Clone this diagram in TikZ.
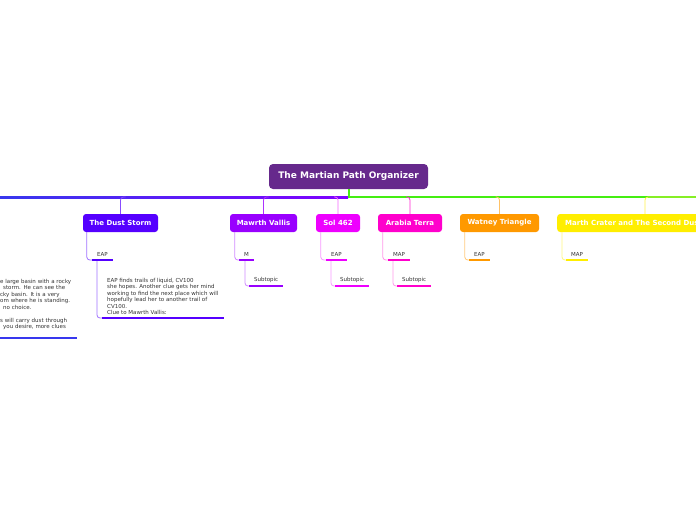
\documentclass[tikz,border=0pt]{standalone}
\usepackage{fontspec}
\setmainfont{DejaVu Sans}
\usetikzlibrary{calc}

\begin{document}
\begin{tikzpicture}[x=1pt,y=-1pt,
  topic/.style={rounded corners=3pt,text=white,font=\fontsize{7}{8}\selectfont\bfseries,minimum height=18pt,inner xsep=0pt,inner ysep=0pt},
  leaf/.style={anchor=south west,font=\fontsize{5.5}{6.5}\selectfont,text=ink,inner xsep=5pt,inner ysep=3pt},
  note/.style={leaf,align=left},
  twig/.style={line width=0.8pt,rounded corners=3pt},
  bar/.style={line width=2.4pt}]
  \definecolor{ink}{HTML}{333333}
  \definecolor{rootc}{HTML}{66298C}
  \definecolor{trunkl}{HTML}{3838EE}
  \definecolor{trunkm}{HTML}{7F00FF}
  \definecolor{trunkr}{HTML}{44EE11}
  \definecolor{dust}{HTML}{5500FF}
  \definecolor{mawrth}{HTML}{9900FF}
  \definecolor{sol}{HTML}{EE00FF}
  \definecolor{arabia}{HTML}{FF00CC}
  \definecolor{watney}{HTML}{FF9900}
  \definecolor{marth}{HTML}{FFEE00}
  \useasboundingbox (0,0) rectangle (696,520);
  \clip (0,0) rectangle (696,520);
  \fill[white] (0,0) rectangle (696,520);
  % Central topic and the trunk under it.
  \node[fill=rootc,rounded corners=4pt,text=white,font=\fontsize{9}{10}\selectfont\bfseries,minimum width=159pt,minimum height=25pt] (root) at (348.5,176.5) {The Martian Path Organizer};
  \coordinate (hub) at (348,197);
  \coordinate (farL) at (0,197);
  \coordinate (farR) at (696,197);
  \shade[left color=trunkl,right color=trunkm] ($(farL)+(0,-1)$) rectangle ($(hub)+(0,1)$);
  \draw[trunkr,line width=2pt] (root.south |- root.south) -- (root.south |- hub) -- (farR);
  % Main topics.
  \node[topic,fill=dust,minimum width=75pt] (dust) at (120.5,223) {The Dust Storm};
  \node[topic,fill=mawrth,minimum width=67pt] (mawrth) at (263.5,223) {Mawrth Vallis};
  \node[topic,fill=sol,minimum width=44pt] (sol) at (338,223) {Sol 462};
  \node[topic,fill=arabia,minimum width=64pt] (arabia) at (410,223) {Arabia Terra};
  \node[topic,fill=watney,minimum width=79pt] (watney) at (499.5,223) {Watney Triangle};
  \node[topic,fill=marth,anchor=west,inner xsep=8pt] (marth) at (557,223) {Marth Crater and The Second Dus};
  \draw[twig,dust!70] ($(dust.north |- hub)+(5,0)$) -| (dust.north);
  \draw[twig,mawrth!80] ($(mawrth.north |- hub)+(5,0)$) -| (mawrth.north);
  \draw[twig,sol!60] ($(sol.north |- hub)+(-4,0)$) -| (sol.north);
  \draw[twig,arabia!85] ($(arabia.north |- hub)+(-4,0)$) -| (arabia.north);
  \draw[twig,watney!60] ($(watney.north |- hub)+(-4,0)$) -| (watney.north);
  \draw[twig,marth!70] ($(marth.north |- hub)+(-4,0)+(88,0)$) -| ($(marth.north west)+(88,0)$);
  % The Dust Storm.
  \node[leaf] (eapD) at (92,260) {EAP};
  \node[note] (clueD) at (102,318) {EAP finds trails of liquid, CV100\\she hopes. Another clue gets her mind\\working to find the next place which will\\hopefully lead her to another trail of\\CV100.\\Clue to Mawrth Vallis:};
  \draw[twig,dust!55] ($(dust.south west)+(4,0)$) |- (eapD.south west);
  \draw[twig,dust!55] ($(eapD.south west)+(5,0)$) |- (clueD.south west);
  \draw[bar,dust] (eapD.south west) -- (eapD.south east);
  \draw[bar,dust] (clueD.south west) -- (clueD.south east);
  % A branch off the left edge, only its tail shows.
  \node[leaf,align=left,text width=77pt,inner xsep=0pt,inner ysep=8pt] (edgeL) at (0,338) {e large basin with a rocky\\\hspace*{3pt}storm. He can see the\\cky basin. It is a very\\om where he is standing.\\\hspace*{3pt}no choice.\\[6.5pt]s will carry dust through\\\hspace*{3pt}you desire, more clues};
  \draw[bar,trunkl] (edgeL.south west) -- (edgeL.south east);
  % Mawrth Vallis.
  \node[leaf] (mM) at (239,260) {M};
  \node[leaf] (subM) at (249,286) {Subtopic};
  \draw[twig,mawrth!45] ($(mawrth.south west)+(5,0)$) |- (mM.south west);
  \draw[twig,mawrth!45] ($(mM.south west)+(6,0)$) |- (subM.south west);
  \draw[bar,mawrth] (mM.south west) -- (mM.south east);
  \draw[bar,mawrth] (subM.south west) -- (subM.south east);
  % Sol 462.
  \node[leaf] (eapS) at (326,260) {EAP};
  \node[leaf] (subS) at (335,286) {Subtopic};
  \draw[twig,sol!40] ($(sol.south west)+(5,0)$) |- (eapS.south west);
  \draw[twig,sol!40] ($(eapS.south west)+(5,0)$) |- (subS.south west);
  \draw[bar,sol] (eapS.south west) -- (eapS.south east);
  \draw[bar,sol] (subS.south west) -- (subS.south east);
  % Arabia Terra.
  \node[leaf] (mapA) at (388,260) {MAP};
  \node[leaf] (subA) at (397,286) {Subtopic};
  \draw[twig,arabia!40] ($(arabia.south west)+(5,0)$) |- (mapA.south west);
  \draw[twig,arabia!40] ($(mapA.south west)+(5,0)$) |- (subA.south west);
  \draw[bar,arabia] (mapA.south west) -- (mapA.south east);
  \draw[bar,arabia] (subA.south west) -- (subA.south east);
  % Watney Triangle and Marth Crater.
  \node[leaf] (eapW) at (469,260) {EAP};
  \node[leaf] (mapC) at (566,260) {MAP};
  \draw[twig,watney!50] ($(watney.south west)+(5,0)$) |- (eapW.south west);
  \draw[twig,marth!50] ($(marth.south west)+(5,0)$) |- (mapC.south west);
  \draw[bar,watney] (eapW.south west) -- (eapW.south east);
  \draw[bar,marth] (mapC.south west) -- (mapC.south east);
\end{tikzpicture}
\end{document}
